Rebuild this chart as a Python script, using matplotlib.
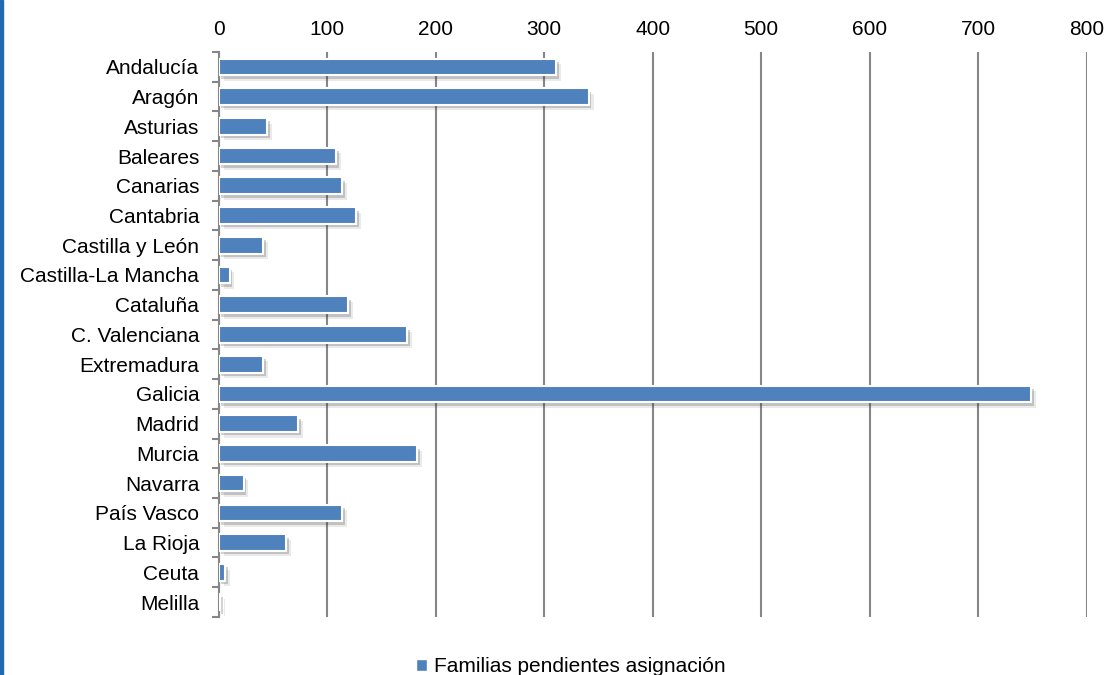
import numpy as np
import matplotlib
matplotlib.use('Agg')
from matplotlib import pyplot as plt
from matplotlib import patheffects as pe
from matplotlib.patches import Rectangle, Patch

plt.rcParams['font.family'] = ['Liberation Sans', 'DejaVu Sans']

regiones = ['Andalucía', 'Aragón', 'Asturias', 'Baleares', 'Canarias', 'Cantabria',
            'Castilla y León', 'Castilla-La Mancha', 'Cataluña', 'C. Valenciana',
            'Extremadura', 'Galicia', 'Madrid', 'Murcia', 'Navarra', 'País Vasco',
            'La Rioja', 'Ceuta', 'Melilla']
familias = [311, 341, 45, 108, 114, 127, 41, 10, 119, 174, 41, 749, 73, 183, 23, 114, 62, 6, 1]
xticks = [0, 100, 200, 300, 400, 500, 600, 700, 800]
serie = 'Familias pendientes asignación'

azul = '#4F81BD'
gris = '#868686'

fig = plt.figure(figsize=(11.1, 6.75), dpi=100)
ax = fig.add_axes([0.197, 0.086, 0.782, 0.837])

y = np.arange(len(regiones))
barras = ax.barh(y, familias, height=0.56, color=azul, edgecolor='white',
                 linewidth=1.5, zorder=3)
for b in barras:
    b.set_path_effects([pe.SimplePatchShadow(offset=(2, -2.5), alpha=0.22,
                                             shadow_rgbFace='#333333'),
                        pe.SimplePatchShadow(offset=(3.5, -4), alpha=0.1,
                                             shadow_rgbFace='#333333'),
                        pe.Normal()])

ax.set_ylim(len(regiones) - 0.5, -0.5)
ax.set_xlim(0, 800)
ax.set_yticks(y)
ax.set_yticklabels(regiones, fontsize=15)
ax.set_yticks(np.arange(len(regiones) + 1) - 0.5, minor=True)
ax.tick_params(axis='y', which='major', length=0, pad=14)
ax.tick_params(axis='y', which='minor', length=5, width=1.5, color=gris)

ax.xaxis.tick_top()
ax.set_xticks(xticks)
ax.tick_params(axis='x', length=0, labelsize=15, pad=9)
ax.grid(axis='x', color=gris, linewidth=1.5, zorder=0)

for s in ['top', 'right', 'bottom']:
    ax.spines[s].set_visible(False)
ax.spines['left'].set_color(gris)
ax.spines['left'].set_linewidth(1.5)

mano = Patch(facecolor=azul, edgecolor='white', label=serie)
fig.legend(handles=[mano], loc='lower center',
           bbox_to_anchor=(0.514, -0.03), frameon=False, fontsize=15,
           handlelength=0.55, handleheight=0.55, handletextpad=0.3)

# borde azul a la izquierda
fig.patches.append(Rectangle((0, 0), 0.003, 1, transform=fig.transFigure,
                             color='#1F6BB0', zorder=10))

plt.savefig('out.png', dpi=100)
